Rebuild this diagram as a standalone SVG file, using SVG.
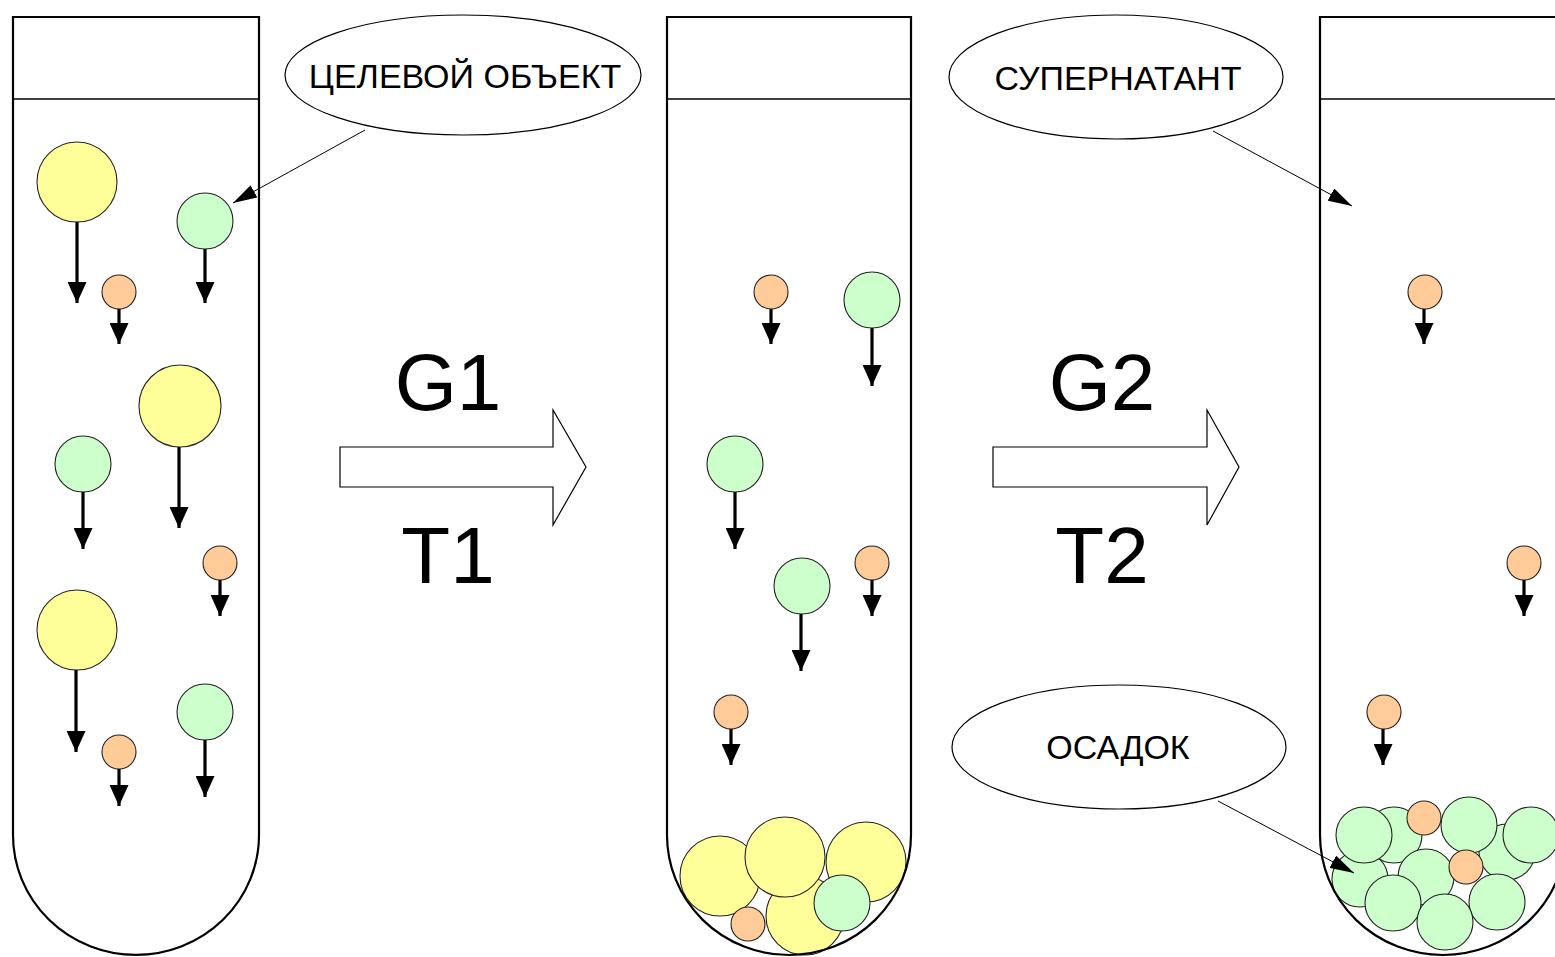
<svg xmlns="http://www.w3.org/2000/svg" width="1555" height="957" viewBox="0 0 1555 957">
  <style>
    .tube { fill: none; stroke: #000; stroke-width: 2.2; }
    .band { stroke: #000; stroke-width: 1.4; }
    .y { fill: #FFFF99; stroke: #222; stroke-width: 1.1; }
    .g { fill: #CCFFCC; stroke: #222; stroke-width: 1.1; }
    .o { fill: #FFCC99; stroke: #222; stroke-width: 1.1; }
    .fall { stroke: #000; stroke-width: 3.2; marker-end: url(#fallHead); }
    .lead { stroke: #000; stroke-width: 1; marker-end: url(#leadHead); }
    .bubble { fill: #fff; stroke: #000; stroke-width: 1.2; }
    .lbl { font-family: "Liberation Sans", Arial, sans-serif; font-size: 34px; fill: #000; text-anchor: middle; }
    .big { font-family: "Liberation Sans", Arial, sans-serif; font-size: 80px; fill: #000; text-anchor: middle; }
    .step { fill: #fff; stroke: #000; stroke-width: 1.2; }
  </style>
  <defs>
    <marker id="fallHead" markerUnits="userSpaceOnUse" markerWidth="21" markerHeight="19" refX="21" refY="9.5" orient="auto" viewBox="0 0 21 19">
      <path d="M0,0 L21,9.5 L0,19 Z" fill="#000"/>
    </marker>
    <marker id="leadHead" markerUnits="userSpaceOnUse" markerWidth="24" markerHeight="14" refX="24" refY="7" orient="auto" viewBox="0 0 24 14">
      <path d="M0,0 L24,7 L0,14 Z" fill="#000"/>
    </marker>
  </defs>

  <rect width="1555" height="957" fill="#fff"/>

  <!-- tube 1: initial suspension -->
  <g id="tube1">
    <path class="tube" d="M13,17 H259 V835 A123,120 0 0 1 13,835 Z"/>
    <line class="band" x1="13" y1="99" x2="259" y2="99"/>
    <circle class="y" cx="77" cy="182" r="40"/>
    <circle class="g" cx="205" cy="221" r="28"/>
    <circle class="o" cx="119" cy="292" r="17"/>
    <circle class="y" cx="180" cy="406" r="41"/>
    <circle class="g" cx="83" cy="464" r="28"/>
    <circle class="o" cx="220" cy="563" r="17"/>
    <circle class="y" cx="77" cy="630" r="40"/>
    <circle class="g" cx="205" cy="712" r="28"/>
    <circle class="o" cx="119" cy="752" r="17"/>
  </g>

  <!-- tube 2: after first spin -->
  <g id="tube2">
    <circle class="y" cx="720" cy="876" r="40"/>
    <circle class="y" cx="866" cy="862" r="40"/>
    <circle class="y" cx="805" cy="916" r="39"/>
    <circle class="y" cx="785" cy="857" r="40"/>
    <circle class="g" cx="842" cy="903" r="28"/>
    <circle class="o" cx="748" cy="924" r="17"/>
    <path class="tube" d="M667,17 H911 V835 A122,120 0 0 1 667,835 Z"/>
    <line class="band" x1="667" y1="99" x2="911" y2="99"/>
    <circle class="o" cx="771" cy="292" r="17"/>
    <circle class="g" cx="872" cy="300" r="28"/>
    <circle class="g" cx="735" cy="464" r="28"/>
    <circle class="g" cx="802" cy="586" r="28"/>
    <circle class="o" cx="872" cy="563" r="17"/>
    <circle class="o" cx="731" cy="712" r="17"/>
  </g>

  <!-- tube 3: after second spin -->
  <g id="tube3">
    <circle class="g" cx="1360" cy="879" r="28"/>
    <circle class="g" cx="1394" cy="835" r="28"/>
    <circle class="g" cx="1364" cy="835" r="28"/>
    <circle class="g" cx="1507" cy="852" r="28"/>
    <circle class="g" cx="1531" cy="835" r="28"/>
    <circle class="g" cx="1469" cy="825" r="28"/>
    <circle class="o" cx="1424" cy="818" r="17"/>
    <circle class="g" cx="1426" cy="877" r="28"/>
    <circle class="o" cx="1466" cy="867" r="17"/>
    <circle class="g" cx="1497" cy="902" r="28"/>
    <circle class="g" cx="1393" cy="903" r="28"/>
    <circle class="g" cx="1445" cy="922" r="28"/>
    <path class="tube" d="M1320,17 H1566 V835 A123,120 0 0 1 1320,835 Z"/>
    <line class="band" x1="1320" y1="99" x2="1566" y2="99"/>
    <circle class="o" cx="1425" cy="292" r="17"/>
    <circle class="o" cx="1524" cy="563" r="17"/>
    <circle class="o" cx="1384" cy="712" r="17"/>
  </g>

  <!-- process steps -->
  <g id="step1">
    <path class="step" d="M340,447 H553 V410 L586,467 L553,525 V487 H340 Z"/>
    <text class="big" x="448" y="410">G1</text>
    <text class="big" x="448" y="583">T1</text>
  </g>
  <g id="step2">
    <path class="step" d="M993,447 H1207 V410 L1239,467 L1207,525 V487 H993 Z"/>
    <text class="big" x="1102" y="410">G2</text>
    <text class="big" x="1102" y="583">T2</text>
  </g>

  <!-- callouts -->
  <g id="label-target">
    <ellipse class="bubble" cx="463" cy="75" rx="178" ry="60"/>
    <text class="lbl" x="465" y="88">ЦЕЛЕВОЙ ОБЪЕКТ</text>
  </g>
  <g id="label-supernatant">
    <ellipse class="bubble" cx="1116" cy="77" rx="167" ry="62"/>
    <text class="lbl" x="1118" y="90">СУПЕРНАТАНТ</text>
  </g>
  <g id="label-pellet">
    <ellipse class="bubble" cx="1119" cy="747" rx="167" ry="62"/>
    <text class="lbl" x="1118" y="759">ОСАДОК</text>
  </g>

  <!-- connectors -->
  <g id="connectors">
    <line class="fall" x1="77" y1="222" x2="77" y2="303"/>
    <line class="fall" x1="205" y1="249" x2="205" y2="303"/>
    <line class="fall" x1="119" y1="309" x2="119" y2="344"/>
    <line class="fall" x1="179" y1="447" x2="179" y2="528"/>
    <line class="fall" x1="83" y1="492" x2="83" y2="549"/>
    <line class="fall" x1="220" y1="580" x2="220" y2="616"/>
    <line class="fall" x1="76" y1="670" x2="76" y2="752"/>
    <line class="fall" x1="205" y1="740" x2="205" y2="797"/>
    <line class="fall" x1="119" y1="769" x2="119" y2="806"/>

    <line class="fall" x1="771" y1="309" x2="771" y2="344"/>
    <line class="fall" x1="872" y1="328" x2="872" y2="386"/>
    <line class="fall" x1="735" y1="492" x2="735" y2="549"/>
    <line class="fall" x1="801" y1="614" x2="801" y2="671"/>
    <line class="fall" x1="872" y1="580" x2="872" y2="616"/>
    <line class="fall" x1="731" y1="729" x2="731" y2="765"/>

    <line class="fall" x1="1424" y1="309" x2="1424" y2="344"/>
    <line class="fall" x1="1524" y1="580" x2="1524" y2="616"/>
    <line class="fall" x1="1383" y1="729" x2="1383" y2="765"/>

    <line class="lead" x1="365" y1="130" x2="233" y2="203"/>
    <line class="lead" x1="1213" y1="131" x2="1352" y2="206"/>
    <line class="lead" x1="1218" y1="801" x2="1354" y2="873"/>
  </g>
</svg>
